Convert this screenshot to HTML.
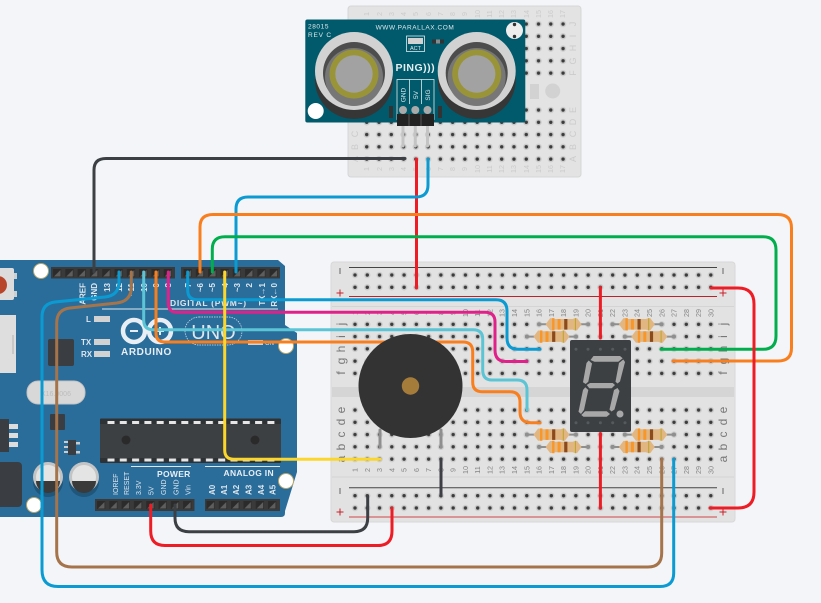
<!DOCTYPE html>
<html><head><meta charset="utf-8"><style>
html,body{margin:0;padding:0;background:#f4f5f8}
svg{display:block}
text{font-family:"Liberation Sans",sans-serif}
.n text{font-size:7.2px;fill:#858585;text-anchor:middle}
.sn text{font-size:7.2px;fill:#cbcbcb;text-anchor:middle}
.l text{font-size:12px;fill:#777;text-anchor:middle}
.sl text{font-size:9px;fill:#cbcbcb;text-anchor:middle}
.p text{font-size:8px;fill:#dfe6ec;text-anchor:end;font-weight:bold}
.p text.b{text-anchor:start}
.p text.s{font-size:7px;font-weight:normal}
.w path{fill:none;stroke-width:3;stroke-linecap:round}
</style></head><body>
<svg width="821" height="603" viewBox="0 0 821 603" xmlns="http://www.w3.org/2000/svg">
<defs>
<pattern id="h" patternUnits="userSpaceOnUse" x="0" y="0" width="12.27" height="12.27"><circle cx="6.135" cy="6.135" r="3.2" fill="#cbcbcb"/><circle cx="6.135" cy="6.135" r="1.7" fill="#3b3b3b"/></pattern>
<pattern id="pin" patternUnits="userSpaceOnUse" x="0" y="0" width="12.3" height="12"><rect x="2" y="2" width="8.3" height="8" fill="#2b2b2b"/><path d="M3 9.5L9.5 9.5L9.5 3Z" fill="#5e5e5e"/></pattern>
<pattern id="tab" patternUnits="userSpaceOnUse" x="0" y="0" width="12.3" height="4"><rect x="2.5" y="0.5" width="7" height="3" fill="#e6e6e6"/></pattern>
<g id="res">
<path d="M-24.5 0H24.5" stroke="#8f8f8f" stroke-width="2"/>
<circle cx="-24.5" cy="0" r="2" fill="#8f8f8f"/><circle cx="24.5" cy="0" r="2" fill="#8f8f8f"/>
<path d="M-18 0L-13.5 -6Q-12 -6.5 -9 -5.3H9Q12 -6.5 13.5 -6L18 0L13.5 6Q12 6.5 9 5.3H-9Q-12 6.5 -13.5 6Z" fill="#e2b680"/>
<rect x="-11.5" y="-6.2" width="2.4" height="12.4" fill="#f9962a"/>
<rect x="-6" y="-5.3" width="3" height="10.6" fill="#f9962a"/>
<rect x="0.6" y="-5.3" width="3.2" height="10.6" fill="#8b4a1c"/>
<rect x="11.3" y="-6.2" width="1" height="12.4" fill="#b9a52c"/>
</g>
</defs>
<rect width="821" height="603" fill="#f4f5f8"/>

<!-- Arduino -->
<path d="M-5 260H278L285 266V325L297 333V472L285 511V513Q285 517 281 517H-5Z" fill="#2a6d9b"/>
<circle cx="41" cy="271" r="7.5" fill="#fff" stroke="#b9a76b" stroke-width="1"/>
<circle cx="34" cy="505" r="7.5" fill="#fff" stroke="#b9a76b" stroke-width="1"/>
<circle cx="286" cy="346" r="7.5" fill="#fff" stroke="#b9a76b" stroke-width="1"/>
<circle cx="286" cy="481" r="7.5" fill="#fff" stroke="#b9a76b" stroke-width="1"/>
<rect x="-4" y="268" width="18" height="32" rx="2" fill="#dcdcdc"/>
<rect x="14" y="273" width="3" height="6" fill="#cfcfcf"/><rect x="14" y="291" width="3" height="6" fill="#cfcfcf"/>
<circle cx="-2" cy="285" r="9" fill="#b8452a"/>
<rect x="-4" y="315" width="20" height="58" fill="#dedede"/><rect x="12" y="335" width="2" height="19" fill="#c8c8c8"/>
<rect x="48" y="339" width="26" height="27" rx="2" fill="#3a3e42"/>
<rect x="27" y="381" width="58" height="23" rx="11" fill="#d8d8d8" stroke="#c4c4c4"/>
<text x="56" y="396" font-size="7" fill="#bdbdbd" text-anchor="middle">X16.0006</text>
<rect x="50" y="414" width="15" height="16" rx="1" fill="#3a3e42"/>
<rect x="-4" y="419" width="13" height="33" fill="#3a3e42"/>
<rect x="9" y="424" width="9" height="5" fill="#ddd"/><rect x="9" y="433" width="9" height="5" fill="#ddd"/><rect x="9" y="442" width="9" height="5" fill="#ddd"/>
<rect x="68" y="440" width="8" height="15" fill="#3a3e42"/>
<rect x="64" y="441" width="4" height="2" fill="#ccc"/><rect x="64" y="446" width="4" height="2" fill="#ccc"/><rect x="64" y="451" width="4" height="2" fill="#ccc"/><rect x="76" y="442" width="4" height="2.5" fill="#ccc"/><rect x="76" y="451" width="4" height="2.5" fill="#ccc"/>
<rect x="-4" y="462" width="26" height="45" rx="4" fill="#3a3e42"/>
<circle cx="48" cy="482" r="15" fill="#1f5679"/><circle cx="84" cy="482" r="15" fill="#1f5679"/>
<circle cx="48" cy="477" r="15" fill="#c4c4c4"/><circle cx="48" cy="477" r="12" fill="#e4e4e4"/><path d="M36 481H60A12 12 0 0 1 36 481Z" fill="#3a3a3a"/>
<circle cx="84" cy="477" r="15" fill="#c4c4c4"/><circle cx="84" cy="477" r="12" fill="#e4e4e4"/><path d="M72 481H96A12 12 0 0 1 72 481Z" fill="#3a3a3a"/>
<rect x="51" y="267" width="124" height="11.5" fill="#3a3a3a"/><rect transform="translate(51,267)" width="123" height="12" fill="url(#pin)"/>
<rect x="181" y="267" width="99" height="11.5" fill="#3a3a3a"/><rect transform="translate(181.5,267)" width="98.4" height="12" fill="url(#pin)"/>
<rect x="95" y="499" width="99.5" height="12" fill="#3a3a3a"/><rect transform="translate(95,499)" width="98.4" height="12" fill="url(#pin)"/>
<rect x="205" y="499" width="75" height="12" fill="#3a3a3a"/><rect transform="translate(204.5,499)" width="73.8" height="12" fill="url(#pin)"/>
<rect x="100" y="418.5" width="181" height="44.5" rx="1" fill="#2f3235"/><rect x="100" y="424" width="181" height="34" fill="#3d4043"/>
<rect transform="translate(105,420.5)" width="172.2" height="4" fill="url(#tab)"/>
<rect transform="translate(105,458)" width="172.2" height="4" fill="url(#tab)"/>
<circle cx="126" cy="440" r="4.5" fill="#2a2a2a"/><circle cx="255" cy="440" r="4.5" fill="#2a2a2a"/>
<g class="p">
<text transform="translate(85.5,283) rotate(-90)">AREF</text>
<text transform="translate(97,283) rotate(-90)">GND</text>
<text transform="translate(110,283) rotate(-90)">13</text>
<text transform="translate(122,283) rotate(-90)">12</text>
<text transform="translate(134,283) rotate(-90)">~11</text>
<text transform="translate(147,283) rotate(-90)">~10</text>
<text transform="translate(159,283) rotate(-90)">~9</text>
<text transform="translate(171,283) rotate(-90)">8</text>
<text transform="translate(191,283) rotate(-90)">7</text>
<text transform="translate(203,283) rotate(-90)">~6</text>
<text transform="translate(215,283) rotate(-90)">~5</text>
<text transform="translate(228,283) rotate(-90)">4</text>
<text transform="translate(240,283) rotate(-90)">~3</text>
<text transform="translate(252,283) rotate(-90)">2</text>
<text transform="translate(265,283) rotate(-90)">TX→1</text>
<text transform="translate(277,283) rotate(-90)">RX←0</text>
<text class="b s" transform="translate(118,495) rotate(-90)">IOREF</text>
<text class="b s" transform="translate(129,495) rotate(-90)">RESET</text>
<text class="b s" transform="translate(141,495) rotate(-90)">3.3V</text>
<text class="b s" transform="translate(153.5,495) rotate(-90)">5V</text>
<text class="b s" transform="translate(166,495) rotate(-90)">GND</text>
<text class="b s" transform="translate(178.5,495) rotate(-90)">GND</text>
<text class="b s" transform="translate(190.5,495) rotate(-90)">Vin</text>
<text class="b" transform="translate(215,495) rotate(-90)">A0</text>
<text class="b" transform="translate(227,495) rotate(-90)">A1</text>
<text class="b" transform="translate(239,495) rotate(-90)">A2</text>
<text class="b" transform="translate(251.5,495) rotate(-90)">A3</text>
<text class="b" transform="translate(264,495) rotate(-90)">A4</text>
<text class="b" transform="translate(275.5,495) rotate(-90)">A5</text>
</g>
<text x="170" y="306" font-size="8.5" font-weight="bold" fill="#dfe6ec" letter-spacing="0.7">DIGITAL (PWM~)</text>
<rect x="102" y="308.5" width="176" height="1" fill="#dfe6ec"/>
<text x="86" y="322" font-size="8" font-weight="bold" fill="#dfe6ec">L</text>
<text x="81" y="345" font-size="8" font-weight="bold" fill="#dfe6ec">TX</text>
<text x="81" y="357" font-size="8" font-weight="bold" fill="#dfe6ec">RX</text>
<rect x="94" y="316" width="16" height="6" fill="#d2d2d2"/><rect x="94" y="339" width="16" height="6" fill="#d2d2d2"/><rect x="94" y="351" width="16" height="6" fill="#d2d2d2"/>
<circle cx="134" cy="331" r="11" fill="none" stroke="#e8eef3" stroke-width="4.5"/>
<circle cx="160" cy="331" r="11" fill="none" stroke="#e8eef3" stroke-width="4.5"/>
<rect x="130" y="330" width="8" height="2" fill="#e8eef3"/><rect x="156" y="330" width="8" height="2" fill="#e8eef3"/><rect x="159" y="327" width="2" height="8" fill="#e8eef3"/>
<text x="121" y="355" font-size="10" font-weight="bold" fill="#e8eef3" letter-spacing="0.6">ARDUINO</text>
<rect x="185" y="317" width="57" height="28" rx="14" fill="none" stroke="#dfe6ec" stroke-width="0.7" stroke-dasharray="1.5 1"/>
<text x="213.5" y="339" font-size="20" fill="#dfe6ec" text-anchor="middle">UNO</text>
<rect x="248" y="340" width="15" height="5" fill="#d2d2d2"/>
<text x="265" y="345" font-size="6" fill="#dfe6ec">ON</text>
<text x="157" y="477" font-size="8.5" font-weight="bold" fill="#e8eef3" letter-spacing="0.3">POWER</text>
<text x="223.5" y="476" font-size="8.5" font-weight="bold" fill="#e8eef3" letter-spacing="0.3">ANALOG IN</text>
<rect x="131" y="466" width="60" height="1" fill="#dfe6ec"/><rect x="205" y="466" width="75" height="1" fill="#dfe6ec"/>

<!-- Small breadboard -->
<rect x="348" y="6" width="233" height="171" rx="3" fill="#e3e3e3" stroke="#d6d6d6"/>
<rect transform="translate(360.6,17.9)" width="208.6" height="61.35" fill="url(#h)"/>
<rect transform="translate(360.6,103.9)" width="208.6" height="61.35" fill="url(#h)"/>
<rect x="530" y="84" width="9" height="15" fill="#d2d2d2"/><circle cx="552.7" cy="91" r="7.5" fill="#d2d2d2"/>
<g class="sn">
<text transform="translate(565,14) rotate(-90)">17</text><text transform="translate(553,14) rotate(-90)">16</text><text transform="translate(541,14) rotate(-90)">15</text><text transform="translate(529,14) rotate(-90)">14</text>
<text transform="translate(516,14) rotate(-90)">13</text><text transform="translate(504,14) rotate(-90)">12</text><text transform="translate(492,14) rotate(-90)">11</text><text transform="translate(480,14) rotate(-90)">10</text>
<text transform="translate(467,14) rotate(-90)">9</text><text transform="translate(455,14) rotate(-90)">8</text><text transform="translate(443,14) rotate(-90)">7</text><text transform="translate(431,14) rotate(-90)">6</text>
<text transform="translate(418,14) rotate(-90)">5</text><text transform="translate(406,14) rotate(-90)">4</text><text transform="translate(394,14) rotate(-90)">3</text><text transform="translate(382,14) rotate(-90)">2</text><text transform="translate(369,14) rotate(-90)">1</text>
<text transform="translate(565,169) rotate(-90)">17</text><text transform="translate(553,169) rotate(-90)">16</text><text transform="translate(541,169) rotate(-90)">15</text><text transform="translate(529,169) rotate(-90)">14</text>
<text transform="translate(516,169) rotate(-90)">13</text><text transform="translate(504,169) rotate(-90)">12</text><text transform="translate(492,169) rotate(-90)">11</text><text transform="translate(480,169) rotate(-90)">10</text>
<text transform="translate(467,169) rotate(-90)">9</text><text transform="translate(455,169) rotate(-90)">8</text><text transform="translate(443,169) rotate(-90)">7</text><text transform="translate(431,169) rotate(-90)">6</text>
<text transform="translate(418,169) rotate(-90)">5</text><text transform="translate(406,169) rotate(-90)">4</text><text transform="translate(394,169) rotate(-90)">3</text><text transform="translate(382,169) rotate(-90)">2</text><text transform="translate(369,169) rotate(-90)">1</text>
</g>
<g class="sl">
<text transform="translate(576,24) rotate(-90)">J</text><text transform="translate(576,36) rotate(-90)">I</text><text transform="translate(576,48) rotate(-90)">H</text><text transform="translate(576,61) rotate(-90)">G</text><text transform="translate(576,73) rotate(-90)">F</text>
<text transform="translate(576,110) rotate(-90)">E</text><text transform="translate(576,122) rotate(-90)">D</text><text transform="translate(576,134) rotate(-90)">C</text><text transform="translate(576,147) rotate(-90)">B</text><text transform="translate(576,159) rotate(-90)">A</text>
<text transform="translate(358,134) rotate(-90)">C</text><text transform="translate(358,147) rotate(-90)">B</text><text transform="translate(358,159) rotate(-90)">A</text>
</g>
<path d="M403 124V146M415.3 124V146M427.5 124V146" stroke="#c4c4c4" stroke-width="3" stroke-linecap="round"/>

<!-- Sensor -->
<rect x="305.3" y="19.5" width="220" height="103" rx="2" fill="#005a6c"/>
<circle cx="354" cy="80" r="39" fill="#363636"/>
<circle cx="354" cy="71" r="39" fill="#d2d2d2"/>
<circle cx="354" cy="73" r="31" fill="#4d4d4d"/>
<circle cx="354" cy="77" r="29" fill="#777"/>
<circle cx="354" cy="74" r="24.5" fill="#9a9438"/>
<circle cx="354" cy="74" r="18.7" fill="#a2a2a2"/>
<circle cx="476.7" cy="80" r="39" fill="#363636"/>
<circle cx="476.7" cy="71" r="39" fill="#d2d2d2"/>
<circle cx="476.7" cy="73" r="31" fill="#4d4d4d"/>
<circle cx="476.7" cy="77" r="29" fill="#777"/>
<circle cx="476.7" cy="74" r="24.5" fill="#9a9438"/>
<circle cx="476.7" cy="74" r="18.7" fill="#a2a2a2"/>
<circle cx="315.7" cy="111" r="8" fill="#fff"/>
<circle cx="514.5" cy="30.5" r="8.5" fill="#eee"/><circle cx="514.5" cy="24.5" r="1.7" fill="#333"/><circle cx="514.5" cy="36.5" r="1.7" fill="#333"/>
<text x="308" y="28.5" font-size="6.5" fill="#dfe9ec" letter-spacing="0.6">28015</text>
<text x="308" y="37" font-size="6.5" fill="#dfe9ec" letter-spacing="0.8">REV C</text>
<text x="415" y="29.5" font-size="6.5" fill="#dfe9ec" text-anchor="middle" letter-spacing="0.55">WWW.PARALLAX.COM</text>
<rect x="406.5" y="36" width="18" height="15.5" fill="none" stroke="#dfe9ec" stroke-width="0.8"/>
<rect x="408" y="38" width="15" height="6" fill="#d2d2d2"/>
<text x="415.5" y="50" font-size="5.5" fill="#dfe9ec" text-anchor="middle">ACT</text>
<rect x="432" y="39.5" width="12" height="4" fill="#333"/><rect x="436" y="39.5" width="4" height="4" fill="#8a8a8a"/>
<text x="395.5" y="71" font-size="10.5" font-weight="bold" fill="#e6eef0" letter-spacing="0.5">PING)))</text>
<rect x="397" y="79.5" width="37" height="40" fill="none" stroke="#dfe9ec" stroke-width="0.8"/>
<path d="M409.5 79.5V104M421.5 79.5V104" stroke="#dfe9ec" stroke-width="0.8"/>
<g fill="#dfe9ec" font-size="6.5" text-anchor="middle">
<text transform="translate(405.5,95) rotate(-90)">GND</text>
<text transform="translate(418,95) rotate(-90)">5V</text>
<text transform="translate(430,95) rotate(-90)">SIG</text>
</g>
<circle cx="403" cy="110" r="4" fill="#aaa"/><circle cx="415.3" cy="110" r="4" fill="#aaa"/><circle cx="427.5" cy="110" r="4" fill="#aaa"/>
<rect x="389" y="106" width="4" height="12" fill="#333"/><rect x="438" y="106" width="4" height="12" fill="#333"/>
<rect x="397" y="114" width="37" height="12" fill="#222"/>
<path d="M409 114V126M421 114V126" stroke="#555" stroke-width="1"/>

<!-- Main breadboard -->
<rect x="331" y="262" width="404" height="260" rx="3" fill="#e2e2e2" stroke="#d8d8d8"/>
<rect x="332" y="306" width="402" height="1" fill="#d4d4d4"/>
<rect x="332" y="387" width="402" height="10" fill="#d5d5d5"/>
<rect x="332" y="476.5" width="402" height="1" fill="#d4d4d4"/>
<path d="M349 267.5H717M349 487.7H717" stroke="#444" stroke-width="1"/>
<path d="M349 296.5H717" stroke="#b8242a" stroke-width="1"/>
<path d="M349 517H717" stroke="#d0454a" stroke-width="1"/>
<rect transform="translate(348.865,268.9)" width="368.1" height="24.54" fill="url(#h)"/>
<rect transform="translate(348.865,318.2)" width="368.1" height="61.35" fill="url(#h)"/>
<rect transform="translate(348.865,403.9)" width="368.1" height="61.35" fill="url(#h)"/>
<rect transform="translate(348.865,489.6)" width="368.1" height="24.54" fill="url(#h)"/>
<path d="M340 268V274M723 268V274M340 488V494M723 488V494" stroke="#666" stroke-width="1"/>
<path d="M336.5 293H343.5M340 289.5V296.5M719.5 293H726.5M723 289.5V296.5M336.5 512H343.5M340 508.5V515.5M719.5 512H726.5M723 508.5V515.5" stroke="#c8202a" stroke-width="1"/>
<g class="l">
<text transform="translate(345,324) rotate(-90)">j</text><text transform="translate(345,336.5) rotate(-90)">i</text><text transform="translate(345,349) rotate(-90)">h</text><text transform="translate(345,361) rotate(-90)">g</text><text transform="translate(345,373) rotate(-90)">f</text>
<text transform="translate(345,410) rotate(-90)">e</text><text transform="translate(345,422) rotate(-90)">d</text><text transform="translate(345,434.5) rotate(-90)">c</text><text transform="translate(345,447) rotate(-90)">b</text><text transform="translate(345,459) rotate(-90)">a</text>
<text transform="translate(727,324) rotate(-90)">j</text><text transform="translate(727,336.5) rotate(-90)">i</text><text transform="translate(727,349) rotate(-90)">h</text><text transform="translate(727,361) rotate(-90)">g</text><text transform="translate(727,373) rotate(-90)">f</text>
<text transform="translate(727,410) rotate(-90)">e</text><text transform="translate(727,422) rotate(-90)">d</text><text transform="translate(727,434.5) rotate(-90)">c</text><text transform="translate(727,447) rotate(-90)">b</text><text transform="translate(727,459) rotate(-90)">a</text>
</g>
<g class="n">
<text transform="translate(357.5,313) rotate(-90)">1</text><text transform="translate(369.8,313) rotate(-90)">2</text><text transform="translate(382,313) rotate(-90)">3</text><text transform="translate(394.3,313) rotate(-90)">4</text><text transform="translate(406.6,313) rotate(-90)">5</text><text transform="translate(418.9,313) rotate(-90)">6</text><text transform="translate(431.1,313) rotate(-90)">7</text><text transform="translate(443.4,313) rotate(-90)">8</text><text transform="translate(455.7,313) rotate(-90)">9</text><text transform="translate(467.9,313) rotate(-90)">10</text>
<text transform="translate(480.2,313) rotate(-90)">11</text><text transform="translate(492.5,313) rotate(-90)">12</text><text transform="translate(504.7,313) rotate(-90)">13</text><text transform="translate(517,313) rotate(-90)">14</text><text transform="translate(529.3,313) rotate(-90)">15</text><text transform="translate(541.5,313) rotate(-90)">16</text><text transform="translate(553.8,313) rotate(-90)">17</text><text transform="translate(566.1,313) rotate(-90)">18</text><text transform="translate(578.4,313) rotate(-90)">19</text><text transform="translate(590.6,313) rotate(-90)">20</text>
<text transform="translate(602.9,313) rotate(-90)">21</text><text transform="translate(615.2,313) rotate(-90)">22</text><text transform="translate(627.4,313) rotate(-90)">23</text><text transform="translate(639.7,313) rotate(-90)">24</text><text transform="translate(652,313) rotate(-90)">25</text><text transform="translate(664.3,313) rotate(-90)">26</text><text transform="translate(676.5,313) rotate(-90)">27</text><text transform="translate(688.8,313) rotate(-90)">28</text><text transform="translate(701.1,313) rotate(-90)">29</text><text transform="translate(713.3,313) rotate(-90)">30</text>
<text transform="translate(357.5,470) rotate(-90)">1</text><text transform="translate(369.8,470) rotate(-90)">2</text><text transform="translate(382,470) rotate(-90)">3</text><text transform="translate(394.3,470) rotate(-90)">4</text><text transform="translate(406.6,470) rotate(-90)">5</text><text transform="translate(418.9,470) rotate(-90)">6</text><text transform="translate(431.1,470) rotate(-90)">7</text><text transform="translate(443.4,470) rotate(-90)">8</text><text transform="translate(455.7,470) rotate(-90)">9</text><text transform="translate(467.9,470) rotate(-90)">10</text>
<text transform="translate(480.2,470) rotate(-90)">11</text><text transform="translate(492.5,470) rotate(-90)">12</text><text transform="translate(504.7,470) rotate(-90)">13</text><text transform="translate(517,470) rotate(-90)">14</text><text transform="translate(529.3,470) rotate(-90)">15</text><text transform="translate(541.5,470) rotate(-90)">16</text><text transform="translate(553.8,470) rotate(-90)">17</text><text transform="translate(566.1,470) rotate(-90)">18</text><text transform="translate(578.4,470) rotate(-90)">19</text><text transform="translate(590.6,470) rotate(-90)">20</text>
<text transform="translate(602.9,470) rotate(-90)">21</text><text transform="translate(615.2,470) rotate(-90)">22</text><text transform="translate(627.4,470) rotate(-90)">23</text><text transform="translate(639.7,470) rotate(-90)">24</text><text transform="translate(652,470) rotate(-90)">25</text><text transform="translate(664.3,470) rotate(-90)">26</text><text transform="translate(676.5,470) rotate(-90)">27</text><text transform="translate(688.8,470) rotate(-90)">28</text><text transform="translate(701.1,470) rotate(-90)">29</text><text transform="translate(713.3,470) rotate(-90)">30</text>
</g>

<!-- Resistors -->
<use href="#res" x="563.6" y="324.3"/>
<use href="#res" x="636.9" y="324.3"/>
<use href="#res" x="551.5" y="336.6"/>
<use href="#res" x="649.3" y="336.6"/>
<use href="#res" x="551.5" y="434.6"/>
<use href="#res" x="649.3" y="434.6"/>
<use href="#res" x="563.6" y="447"/>
<use href="#res" x="636.9" y="447"/>

<!-- Wires behind buzzer -->
<g class="w">
<path stroke="#3c3f43" d="M405 158.5H106Q94 158.5 94 170V272"/>
<path stroke="#ee1c25" d="M416.5 159V288"/>
<path stroke="#0b9bd3" d="M428 159V185Q428 197 416 197H248Q236 197 236 209V272"/>
<path stroke="#f97f1e" d="M200 272V227Q200 214.5 213 214.5H778Q791.5 214.5 791.5 228V348Q791.5 361 778 361H673"/>
<path stroke="#00ae4d" d="M212.3 272V249Q212.3 236.7 225 236.7H763Q776 236.7 776 250V336Q776 349.3 763 349.3H661"/>
<path stroke="#ee1c25" d="M711 288H738Q754 288 754 304V492Q754 508 738 508H710"/>
<path stroke="#0b9bd3" d="M187.7 272V290Q187.7 299.7 197 299.7H496Q507 299.7 507 311V338Q507 349.3 518 349.3H540"/>
<path stroke="#e0218a" d="M168.3 272V303Q168.3 312.3 177 312.3H485Q495 312.3 495 322V350Q495 361.5 506 361.5H527"/>
<path stroke="#5bc5d5" d="M143.7 272V320Q143.7 329.7 153 329.7H473Q482.7 329.7 482.7 339V370Q482.7 380 492 380H517Q527 380 527 390V410"/>
<path stroke="#f97f1e" d="M156 272V333Q156 342 165 342H463Q472.7 342 472.7 352V382Q472.7 391.7 482 391.7H510Q520 391.7 520 402V412Q520 422.7 531 422.7H540"/>
<path stroke="#3c3f43" stroke-width="3.5" d="M441 459V496"/>
</g>
<!-- Buzzer -->
<path d="M380 430V447M441 430V447" stroke="#8f8f8f" stroke-width="3" stroke-linecap="round"/>
<circle cx="410.5" cy="386" r="52" fill="#333"/>
<circle cx="410.5" cy="386" r="8.7" fill="#a67c3a"/>

<!-- 7 segment -->
<rect x="570" y="340" width="61" height="92" rx="2" fill="#3d4043"/>
<g fill="#555a5e">
<circle cx="576" cy="349.3" r="1.5"/><circle cx="588" cy="349.3" r="1.5"/><circle cx="600.4" cy="349.3" r="1.5"/><circle cx="612.7" cy="349.3" r="1.5"/><circle cx="625" cy="349.3" r="1.5"/>
<circle cx="576" cy="422.7" r="1.5"/><circle cx="588" cy="422.7" r="1.5"/><circle cx="600.4" cy="422.7" r="1.5"/><circle cx="612.7" cy="422.7" r="1.5"/><circle cx="625" cy="422.7" r="1.5"/>
</g>
<g fill="#a8a8a8">
<path d="M590.5 360L593.5 356H620L622.7 358.3L618.3 361.7H594.5Z"/>
<path d="M588.7 360.5L592 363.5L588.3 381.7L585.7 384L583 382.3L586.5 363Z"/>
<path d="M623.3 359.5L619 363L615.5 381.7L617.5 383.5L620 381.5L625 362Z"/>
<path d="M586.7 385L590 383H612.7L615 385L611.7 388.3H589.3Z"/>
<path d="M585.3 387.3L588.3 390L584 410L581 414L578.5 411.7L583 390Z"/>
<path d="M617.5 388L614 390L609.5 409.5L611.5 411.5L614.5 409.5L619.5 391Z"/>
<path d="M581.3 415L585 411.3H606.7L610 414L606.7 416.7H583.5Z"/>
<circle cx="620" cy="414" r="3.5"/>
</g>

<!-- Wires in front -->
<g class="w">
<path stroke="#fcd62a" d="M224.7 272V450Q224.7 459.3 234 459.3H380"/>
<path stroke="#a5744a" d="M131.3 272V287Q131.3 301 117 303L70 308Q56.7 309.5 56.7 323V552Q56.7 567 72 567H648Q661.7 567 661.7 553V459"/>
<path stroke="#0b9bd3" d="M119 272V282Q119 295.5 105 297L55 302Q42 303.5 42 317V570Q42 586.5 58 586.5H660Q673.7 586.5 673.7 573V459"/>
<path stroke="#ee1c25" d="M600.4 287.5V338M600.4 433.5V508"/>
<path stroke="#3c3f43" d="M175 505V518Q175 531.7 189 531.7H354Q367.7 531.7 367.7 518V496"/>
<path stroke="#ee1c25" d="M150.7 505V531Q150.7 545.5 165 545.5H378Q392 545.5 392 531V508"/>
</g>
</svg>
</body></html>
